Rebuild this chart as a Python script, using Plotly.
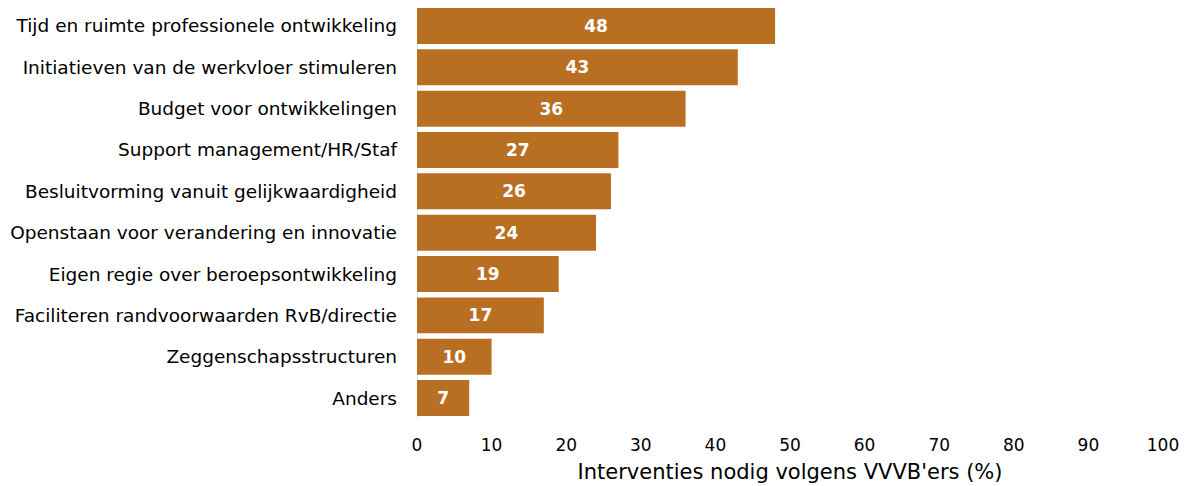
import plotly.graph_objects as go

categories = [
    "Tijd en ruimte professionele ontwikkeling",
    "Initiatieven van de werkvloer stimuleren",
    "Budget voor ontwikkelingen",
    "Support management/HR/Staf",
    "Besluitvorming vanuit gelijkwaardigheid",
    "Openstaan voor verandering en innovatie",
    "Eigen regie over beroepsontwikkeling",
    "Faciliteren randvoorwaarden RvB/directie",
    "Zeggenschapsstructuren",
    "Anders",
]
values = [48, 43, 36, 27, 26, 24, 19, 17, 10, 7]
x_ticks = [0, 10, 20, 30, 40, 50, 60, 70, 80, 90, 100]
x_title = "Interventies nodig volgens VVVB'ers (%)"

font_family = "DejaVu Sans, Verdana, sans-serif"

fig = go.Figure(go.Bar(
    y=categories,
    x=values,
    orientation="h",
    marker=dict(color="#B86F22", line=dict(width=0)),
    text=[str(v) for v in values],
    textposition="inside",
    insidetextanchor="middle",
    textfont=dict(color="white", size=17, family=font_family),
    texttemplate="<b>%{text}</b>",
))

fig.update_layout(
    width=1180,
    height=478,
    margin=dict(l=409, r=25, t=0, b=67),
    plot_bgcolor="white",
    paper_bgcolor="white",
    bargap=0.13,
    showlegend=False,
    font=dict(family=font_family, size=17, color="black"),
    uniformtext=dict(minsize=17, mode="show"),
)
fig.update_yaxes(
    range=[9.507, -0.435],
    automargin=False,
    showgrid=False,
    showline=False,
    ticks="",
    ticklabelstandoff=19,
    tickfont=dict(size=18.5, color="black"),
)
fig.update_xaxes(
    range=[0, 100],
    automargin=False,
    tickvals=x_ticks,
    showgrid=False,
    zeroline=False,
    showline=False,
    ticks="",
    ticklabelstandoff=14,
    tickfont=dict(size=17, color="black"),
    title=dict(text=x_title, font=dict(size=21, color="black"), standoff=10),
)
fig.add_shape(type="line", xref="x", yref="paper", x0=0, x1=0, y0=0, y1=1,
              line=dict(color="#C9D7EA", width=1), layer="below")

fig.write_html("out.html")
